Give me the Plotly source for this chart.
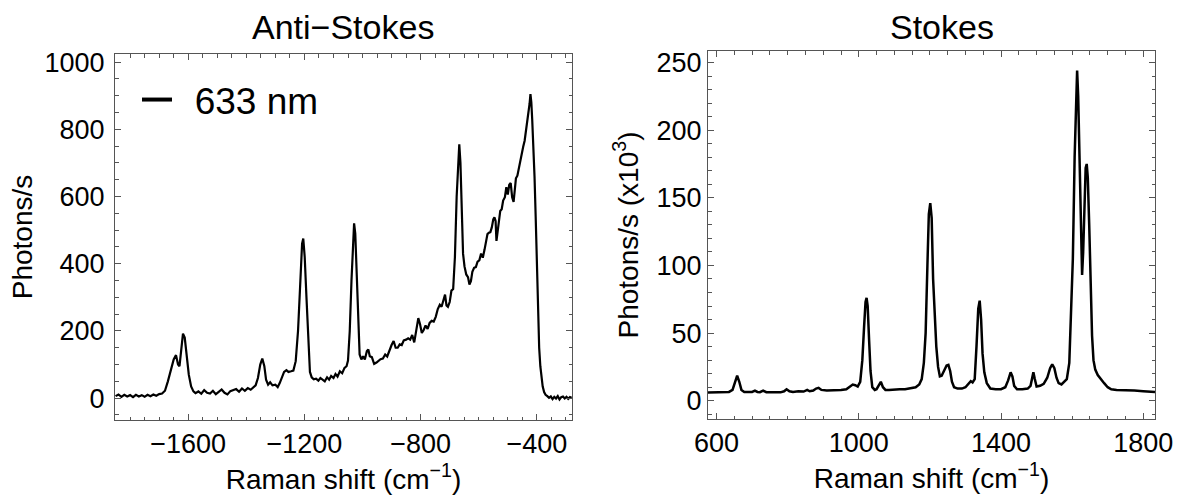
import plotly.graph_objects as go

# ---------------- Anti-Stokes (633 nm) ----------------
as_shift = [-1850, -1840, -1830, -1820, -1810, -1800, -1790, -1780, -1770, -1760,
            -1750, -1740, -1730, -1720, -1710, -1700, -1690, -1680, -1670, -1660,
            -1650, -1642, -1635, -1630, -1625, -1618, -1612, -1605, -1598, -1590,
            -1582, -1575, -1565, -1555, -1545, -1535, -1525, -1515, -1505, -1495,
            -1485, -1475, -1465, -1455, -1445, -1435, -1425, -1415, -1405, -1395,
            -1385, -1375, -1368, -1360, -1352, -1345, -1338, -1332, -1325, -1318,
            -1310, -1300, -1292, -1285, -1278, -1270, -1262, -1255, -1246, -1238,
            -1230, -1222, -1215, -1208, -1204, -1199, -1193, -1187, -1181, -1175,
            -1168, -1160, -1152, -1145, -1138, -1130, -1122, -1115, -1108, -1100,
            -1093, -1086, -1078, -1070, -1062, -1055, -1050, -1044, -1038, -1033,
            -1029, -1025, -1020, -1015, -1010, -1004, -998, -992, -985, -980,
            -975, -968, -960, -952, -945, -938, -930, -922, -915, -908,
            -900, -893, -886, -879, -872, -865, -858, -850, -843, -836,
            -829, -822, -815, -808, -802, -796, -790, -783, -776, -769,
            -762, -755, -748, -741, -734, -728, -722, -716, -711, -706,
            -700, -694, -688, -682, -676, -671, -667, -663, -659, -654,
            -649, -643, -637, -632, -627, -622, -616, -610, -604, -598,
            -592, -586, -580, -575, -570, -565, -560, -555, -550, -546,
            -542, -539, -535, -530, -526, -521, -516, -510, -505, -500,
            -495, -490, -485, -480, -476, -472, -467, -462, -457, -452,
            -447, -442, -437, -433, -429, -425, -422, -419, -416, -412,
            -408, -404, -400, -396, -392, -388, -384, -380, -375, -370,
            -364, -358, -352, -346, -340, -334, -328, -322, -316, -310,
            -304, -298, -292, -286, -280]
as_counts = [6, 11, 4, 10, 5, 9, 3, 10, 5, 9,
             4, 10, 6, 11, 7, 12, 14, 22, 50, 85,
             115, 128, 100, 95, 140, 192, 180, 120, 70, 35,
             20, 15, 20, 13, 24, 16, 14, 22, 12, 19,
             26, 16, 11, 21, 23, 27, 19, 29, 22, 30,
             25, 33, 38, 60, 100, 118, 95, 55, 40, 47,
             38, 40, 33, 45, 58, 78, 83, 78, 80, 82,
             110, 200, 330, 460, 475, 420, 300, 170, 78, 62,
             56, 58, 52, 60, 55, 50, 62, 55, 66, 60,
             72, 64, 80, 74, 90, 95, 112, 200, 350, 470,
             520, 490, 370, 220, 130, 115, 125, 115, 140, 145,
             125, 122, 102, 106, 112, 116, 118, 130, 124, 142,
             158, 170, 150, 150, 160, 158, 172, 174, 178, 174,
             188, 166, 208, 238, 220, 194, 202, 216, 206, 224,
             230, 228, 242, 265, 278, 272, 290, 308, 276, 272,
             286, 320, 325, 420, 600, 720, 755, 700, 560, 430,
             392, 368, 360, 338, 348, 376, 388, 390, 406, 410,
             430, 418, 442, 462, 488, 492, 494, 508, 532, 538,
             527, 468, 500, 538, 557, 562, 588, 598, 628, 606,
             635, 640, 598, 584, 618, 654, 662, 686, 698, 732,
             748, 766, 798, 816, 848, 876, 905, 880, 830, 760,
             660, 540, 400, 260, 150, 95, 60, 35, 18, 10,
             6, 1, 5, -3, 4, -1, 6, -4, 3, 5,
             -1, 4, -2, 3, 1]

# ---------------- Stokes ----------------
st_shift = [575, 600, 620, 635, 645, 652, 658, 664, 670, 678,
            690, 700, 708, 715, 722, 731, 740, 760, 780, 790,
            797, 805, 815, 830, 845, 855, 862, 872, 880, 887,
            895, 910, 930, 950, 965, 975, 983, 990, 997, 1004,
            1010, 1015, 1019, 1022, 1025, 1029, 1033, 1038, 1045, 1050,
            1056, 1062, 1068, 1075, 1085, 1100, 1115, 1130, 1145, 1160,
            1170, 1177, 1183, 1188, 1193, 1197, 1201, 1205, 1209, 1213,
            1218, 1223, 1228, 1233, 1240, 1247, 1252, 1257, 1262, 1268,
            1278, 1290, 1300, 1308, 1315, 1320, 1326, 1331, 1336, 1340,
            1344, 1348, 1353, 1360, 1370, 1385, 1400, 1412, 1420, 1427,
            1432, 1437, 1445, 1460, 1475, 1483, 1488, 1491, 1495, 1500,
            1510, 1520, 1530, 1538, 1544, 1550, 1556, 1562, 1570, 1578,
            1585, 1592, 1597, 1602, 1607, 1611, 1614, 1617, 1621, 1625,
            1628, 1631, 1635, 1638, 1641, 1644, 1648, 1652, 1656, 1660,
            1665, 1672, 1680, 1690, 1700, 1710, 1725, 1750, 1775, 1800,
            1833]
st_counts = [6, 6, 6.2, 6.5, 8, 13, 18.5, 14, 8, 6.5,
             6.2, 6.5, 7.5, 6.5, 6.3, 7.5, 6.3, 6, 6.2, 7,
             8.5, 7, 6.5, 7, 6.8, 8, 7, 7.5, 9, 9.5,
             8, 7.5, 7.5, 8, 8.5, 10.5, 12, 11.5, 10.5, 14,
             30, 55, 73, 76, 70, 45, 22, 10, 8, 8.5,
             11, 14, 10, 8, 8, 8.5, 8.5, 8.5, 9.5, 10,
             12, 16, 28, 50, 100, 138, 146, 135, 90, 62,
             40, 25, 18, 18.5, 22, 26, 26.5, 22, 14, 10,
             9, 9, 10, 12, 14.5, 13.5, 16, 40, 68, 74,
             60, 35, 21, 13, 9, 8.5, 8.5, 10, 15, 21,
             18, 11, 8.5, 8.5, 9, 11, 18, 21, 16, 10.5,
             11, 12.5, 17, 24, 27, 24, 17, 13, 12, 14,
             16, 28, 60, 105, 180, 230, 244, 225, 170, 115,
             93, 110, 150, 172, 175, 165, 130, 85, 48, 30,
             23, 19, 16, 13, 10, 8.5, 8, 8, 7.5, 7,
             6.5]

FONT = "Liberation Sans, Arial, sans-serif"
FRAME = "#555555"

fig = go.Figure()
fig.add_trace(go.Scatter(x=as_shift, y=as_counts, mode="lines",
                         line=dict(color="black", width=2.2),
                         showlegend=False, xaxis="x", yaxis="y"))
fig.add_trace(go.Scatter(x=st_shift, y=st_counts, mode="lines",
                         line=dict(color="black", width=2.5),
                         showlegend=False, xaxis="x2", yaxis="y2"))
# legend entry
fig.add_trace(go.Scatter(x=[None], y=[None], mode="lines", name="\u00a0\u2009633 nm",
                         line=dict(color="black", width=4),
                         showlegend=True, xaxis="x", yaxis="y"))

W, H = 1193, 495

def axis_common():
    return dict(showline=True, linecolor=FRAME, linewidth=1, mirror="allticks",
                ticks="inside", ticklen=6, tickcolor=FRAME, tickwidth=1,
                showgrid=False, zeroline=False, automargin=False,
                tickfont=dict(family=FONT, size=27, color="black"),
                minor=dict(ticks="inside", ticklen=3.5, tickcolor=FRAME, tickwidth=1, showgrid=False))

TITLE_FONT = dict(family=FONT, size=28, color="black")

xa = axis_common()
xa.update(domain=[115 / W, 572 / W], range=[-1852, -279], tick0=-1600, dtick=400,
          anchor="y", title=dict(text="Raman shift (cm<sup>\u22121</sup>)",
                                 font=TITLE_FONT, standoff=6))
xa["minor"].update(dtick=50, tick0=-1600)
ya = axis_common()
ya.update(domain=[1 - 420 / H, 1 - 54 / H], range=[-65, 1024], tick0=0, dtick=200,
          anchor="x", ticklabelstandoff=4,
          title=dict(text="Photons/s", font=TITLE_FONT, standoff=3))
ya["minor"].update(dtick=50, tick0=0)

xa2 = axis_common()
xa2.update(domain=[708 / W, 1155 / W], range=[576, 1833], tick0=600, dtick=400,
           anchor="y2", title=dict(text="Raman shift (cm<sup>\u22121</sup>)",
                                   font=TITLE_FONT, standoff=6))
xa2["minor"].update(dtick=50, tick0=600)
ya2 = axis_common()
ya2.update(domain=[1 - 419 / H, 1 - 51 / H], range=[-13.5, 258.5], tick0=0, dtick=50,
           anchor="x2", ticklabelstandoff=0,
           title=dict(text="Photons/s (x10<sup>3</sup>)", font=TITLE_FONT, standoff=9))
ya2["minor"].update(dtick=10, tick0=0)

fig.update_layout(
    width=W, height=H,
    margin=dict(l=0, r=0, t=0, b=0),
    paper_bgcolor="white", plot_bgcolor="white",
    font=dict(family=FONT, color="black"),
    xaxis=xa, yaxis=ya, xaxis2=xa2, yaxis2=ya2,
    legend=dict(x=137 / W, y=1 - 100 / H, xanchor="left", yanchor="middle",
                bgcolor="rgba(0,0,0,0)", font=dict(family=FONT, size=37, color="black")),
    annotations=[
        dict(text="Anti\u2212Stokes", x=343 / W, y=1 - 27 / H, xref="paper", yref="paper",
             showarrow=False, xanchor="center", yanchor="middle",
             font=dict(family=FONT, size=34, color="black")),
        dict(text="Stokes", x=942 / W, y=1 - 27 / H, xref="paper", yref="paper",
             showarrow=False, xanchor="center", yanchor="middle",
             font=dict(family=FONT, size=34, color="black")),
    ],
)

fig.write_html("out.html")
